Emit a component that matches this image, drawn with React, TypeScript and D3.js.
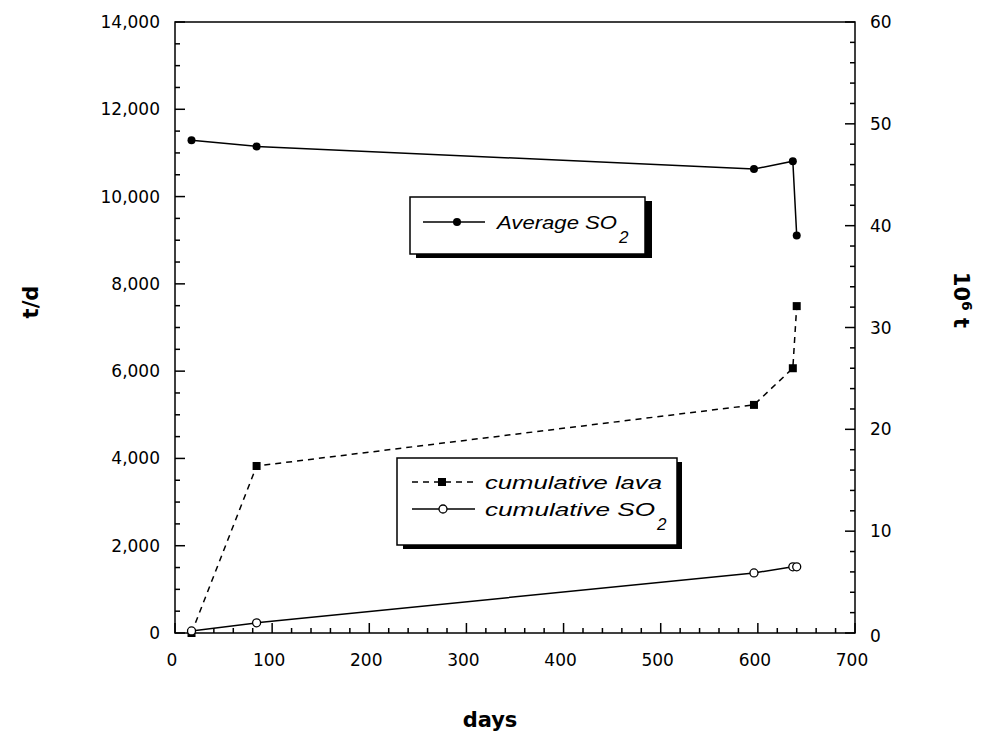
import React from "react";
import * as d3 from "d3";

const days = [17, 84, 596, 636, 640];
const avgSO2 = [11290, 11150, 10630, 10810, 9110];
const cumLava = [0, 16.4, 22.4, 26.0, 32.1];
const cumSO2 = [0.2, 1.0, 5.9, 6.5, 6.5];

const xTicks = [0, 100, 200, 300, 400, 500, 600, 700];
const yLeftTicks = [0, 2000, 4000, 6000, 8000, 10000, 12000, 14000];
const yRightTicks = [0, 10, 20, 30, 40, 50, 60];

const W = 1001, H = 737;
const L = 175, R = 855, T = 22, B = 633;

export default function App() {
  const x = d3.scaleLinear().domain([0, 700]).range([L, R]);
  const yL = d3.scaleLinear().domain([0, 14000]).range([B, T]);
  const yR = d3.scaleLinear().domain([0, 60]).range([B, T]);

  const avgPts: [number, number][] = days.map((d, i) => [x(d), yL(avgSO2[i])]);
  const lavaPts: [number, number][] = days.map((d, i) => [x(d), yR(cumLava[i])]);
  const cumPts: [number, number][] = days.map((d, i) => [x(d), yR(cumSO2[i])]);
  const line = d3.line();

  const tickFont = "'DejaVu Sans', sans-serif";
  const xMinor = d3.range(0, 701, 20);
  const yLMinor = d3.range(0, 14001, 500);
  const yRMinor = d3.range(0, 61, 2);

  return (
    <svg width={W} height={H} style={{ position: "absolute", left: 0, top: 0, background: "#fff" }}>
      <rect x={0} y={0} width={W} height={H} fill="#fff" />
      <rect x={L} y={T} width={R - L} height={B - T} fill="none" stroke="#000" strokeWidth={1.5} />
      {xMinor.map((v) => (
        <line key={"xm" + v} x1={x(v)} x2={x(v)} y1={B} y2={B - (v % 100 === 0 ? 10 : 5)} stroke="#000" strokeWidth={1.5} />
      ))}
      {xTicks.map((v) => (
        <text key={"xt" + v} x={x(v) - 3} y={666} textAnchor="middle" fontFamily={tickFont} fontSize={17}>{v}</text>
      ))}
      {yLMinor.map((v) => (
        <line key={"ylm" + v} x1={L} x2={L + (v % 2000 === 0 ? 10 : 5)} y1={yL(v)} y2={yL(v)} stroke="#000" strokeWidth={1.5} />
      ))}
      {yLeftTicks.map((v) => (
        <text key={"ylt" + v} x={160} y={yL(v) + 6} textAnchor="end" fontFamily={tickFont} fontSize={17}>{d3.format(",")(v)}</text>
      ))}
      {yRMinor.map((v) => (
        <line key={"yrm" + v} x1={R} x2={R - (v % 10 === 0 ? 10 : 5)} y1={yR(v)} y2={yR(v)} stroke="#000" strokeWidth={1.5} />
      ))}
      {yRightTicks.map((v) => (
        <text key={"yrt" + v} x={870} y={yR(v) + 6 + (v === 0 ? 3 : 0)} textAnchor="start" fontFamily={tickFont} fontSize={17}>{v}</text>
      ))}
      <text x={490} y={727} textAnchor="middle" fontFamily={tickFont} fontWeight="bold" fontSize={21}>days</text>
      <text transform="translate(38,302) rotate(-90)" textAnchor="middle" fontFamily={tickFont} fontWeight="bold" fontSize={21}>t/d</text>
      <text transform="translate(954,300) rotate(90)" textAnchor="middle" fontFamily={tickFont} fontWeight="bold" fontSize={21}>
        10<tspan dy={-8} fontSize={14}>6</tspan><tspan dy={8}> t</tspan>
      </text>

      <path d={line(avgPts) || ""} fill="none" stroke="#000" strokeWidth={1.5} />
      {avgPts.map((p, i) => (
        <circle key={"a" + i} cx={p[0]} cy={p[1]} r={4} fill="#000" />
      ))}
      <path d={line(lavaPts) || ""} fill="none" stroke="#000" strokeWidth={1.5} strokeDasharray="6,5" />
      {lavaPts.map((p, i) => (
        <rect key={"l" + i} x={p[0] - 4} y={p[1] - 4} width={8} height={8} fill="#000" />
      ))}
      <path d={line(cumPts) || ""} fill="none" stroke="#000" strokeWidth={1.5} />
      {cumPts.map((p, i) => (
        <circle key={"c" + i} cx={p[0]} cy={p[1]} r={4} fill="#fff" stroke="#000" strokeWidth={1.3} />
      ))}

      <rect x={416} y={201} width={236} height={57} fill="#000" />
      <rect x={410} y={197} width={235} height={57} fill="#fff" stroke="#000" strokeWidth={1.5} />
      <line x1={423} x2={485} y1={222} y2={222} stroke="#000" strokeWidth={1.5} />
      <circle cx={457} cy={222} r={4} fill="#000" />
      <text x={497} y={229} fontFamily="'Liberation Sans', sans-serif" fontStyle="italic" fontSize={19} textLength={120} lengthAdjust="spacingAndGlyphs">Average SO</text>
      <text x={619} y={243} fontFamily="'Liberation Sans', sans-serif" fontStyle="italic" fontSize={17}>2</text>

      <rect x={403} y={462} width={279} height={87} fill="#000" />
      <rect x={397} y={458} width={280} height={87} fill="#fff" stroke="#000" strokeWidth={1.5} />
      <line x1={412} x2={475} y1={482} y2={482} stroke="#000" strokeWidth={1.5} strokeDasharray="6,5" />
      <rect x={438} y={478} width={8} height={8} fill="#000" />
      <text x={485} y={489} fontFamily="'Liberation Sans', sans-serif" fontStyle="italic" fontSize={19} textLength={177} lengthAdjust="spacingAndGlyphs">cumulative lava</text>
      <line x1={412} x2={475} y1={509} y2={509} stroke="#000" strokeWidth={1.5} />
      <circle cx={443} cy={509} r={4} fill="#fff" stroke="#000" strokeWidth={1.3} />
      <text x={485} y={516} fontFamily="'Liberation Sans', sans-serif" fontStyle="italic" fontSize={19} textLength={170} lengthAdjust="spacingAndGlyphs">cumulative SO</text>
      <text x={657} y={530} fontFamily="'Liberation Sans', sans-serif" fontStyle="italic" fontSize={17}>2</text>
    </svg>
  );
}
